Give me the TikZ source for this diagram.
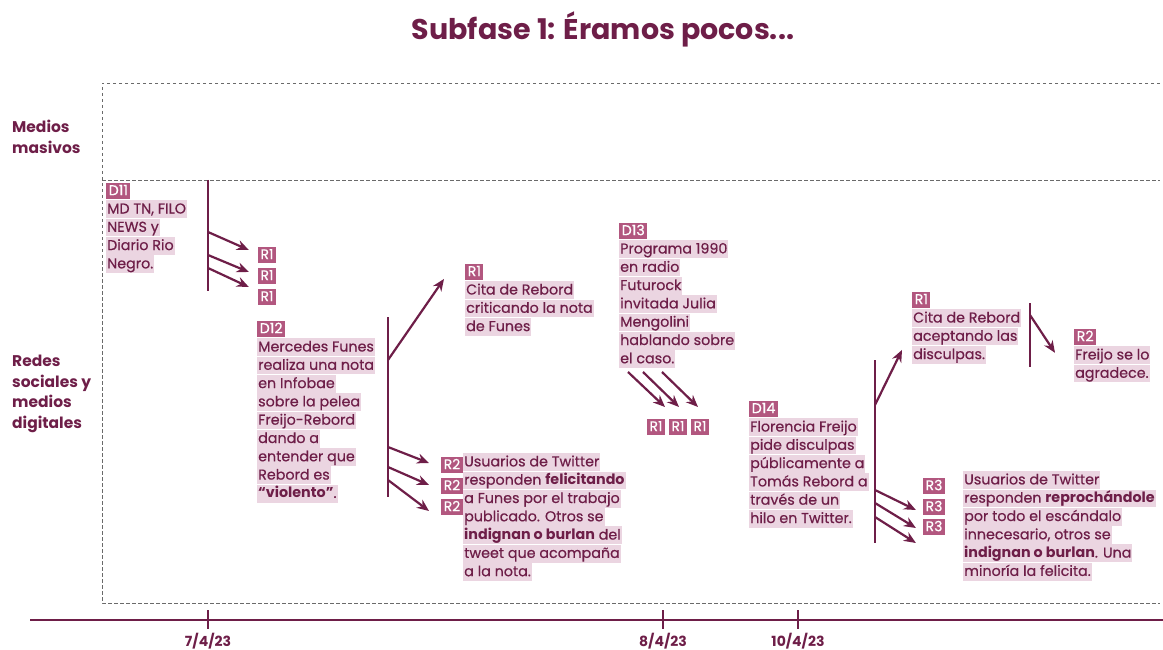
\documentclass[tikz,border=0pt]{standalone}
\usepackage{fontspec}
\setmainfont{Poppins}[UprightFeatures={FakeBold=0.5}]
\usetikzlibrary{arrows.meta,positioning}

\definecolor{vino}{HTML}{6E1E48}
\definecolor{rosa}{HTML}{EBD5E1}
\definecolor{rosafuerte}{HTML}{B2577F}
\definecolor{gris}{HTML}{6A6A6A}

% highlighted line and tag
\setlength{\fboxsep}{0pt}
\newcommand{\resaltar}[1]{\colorbox{rosa}{\rule[-4.6pt]{0pt}{17.8pt}\kern1pt#1\kern1pt}}
\newcommand{\etiq}[1]{\colorbox{rosafuerte}{\rule[-3.6pt]{0pt}{15.6pt}\kern2.5pt\textcolor{white}{#1}\kern2.5pt}}

\begin{document}
\begin{tikzpicture}[x=1pt,y=-1pt,
    evento/.style={anchor=north west, inner sep=0pt, align=left, text=vino,
        font=\fontsize{14.3}{18.3}\selectfont},
    resp/.style={inner sep=0pt, font=\fontsize{14}{15}\selectfont},
    zona/.style={anchor=north west, inner sep=0pt, align=left, text=vino,
        font=\fontsize{15.5}{20.5}\selectfont\bfseries},
    fecha/.style={text=vino, font=\fontsize{14}{15}\selectfont\bfseries},
    marco/.style={gris, line width=0.8pt, dash pattern=on 3.5pt off 2.5pt},
    tallo/.style={vino, line width=2.2pt},
    flecha/.style={vino, line width=2.2pt, -{Stealth[length=12pt,width=10pt]}}]

    \useasboundingbox (0,0) rectangle (1163,650);

    % Title
    \node[text=vino, font=\fontsize{28.5}{32}\selectfont\bfseries] (titulo) at (603,29) {Subfase 1: Éramos pocos...};

    % Frame of the two zones
    \draw[marco] (1160,83) -- (102,83) -- (102,603) -- (1160,603);
    \draw[marco] (102,180) -- (1160,180);
    \node[zona] (masivos) at (12,120) {Medios\\masivos};
    \node[zona] (redes) at (12,355) {Redes\\sociales y\\medios\\digitales};

    % Time axis
    \coordinate (ejeA) at (30,620);
    \coordinate (ejeB) at (1163,620);
    \draw[vino, line width=2.6pt] (ejeA) -- (ejeB);
    \foreach \x/\f/\n in {208/7\slash 4\slash 23/f1, 663/8\slash 4\slash 23/f2, 798/10\slash 4\slash 23/f3} {
        \draw[vino, line width=2pt] (\x,610) -- (\x,629);
        \node[fecha] (\n) at (\x,641) {\f};
    }

    % D11
    \node[evento] (d11) at (106,183) {\etiq{D11}\\\resaltar{MD TN, FILO}\\\resaltar{NEWS y}\\\resaltar{Diario Rio}\\\resaltar{Negro.}};
    \node[resp] (r11) at (267,255) {\etiq{R1}};
    \node[resp] (r12) at (267,276) {\etiq{R1}};
    \node[resp] (r13) at (267,297) {\etiq{R1}};
    \draw[tallo] (208,180) coordinate (t1a) -- (208,291) coordinate (t1b);
    \coordinate (a11) at (208,232);
    \coordinate (a12) at (208,255);
    \coordinate (a13) at (208,268);
    \draw[flecha] (a11) -- ([shift={(-9,-5)}]r11.west);
    \draw[flecha] (a12) -- ([shift={(-9,-4)}]r12.west);
    \draw[flecha] (a13) -- ([shift={(-9,-10)}]r13.west);

    % D12
    \node[evento] (d12) at (257,321) {\etiq{D12}\\\resaltar{Mercedes Funes}\\\resaltar{realiza una nota}\\\resaltar{en Infobae}\\\resaltar{sobre la pelea}\\\resaltar{Freijo-Rebord}\\\resaltar{dando a}\\\resaltar{entender que}\\\resaltar{Rebord es}\\\resaltar{\textbf{“violento”}.}};
    \node[evento] (r1cita) at (465,264) {\etiq{R1}\\\resaltar{Cita de Rebord}\\\resaltar{criticando la nota}\\\resaltar{de Funes}};
    \node[evento] (r2tw) at (463,453) {\resaltar{Usuarios de Twitter}\\\resaltar{responden \textbf{felicitando}}\\\resaltar{a Funes por el trabajo}\\\resaltar{publicado. Otros se}\\\resaltar{\textbf{indignan o burlan} del}\\\resaltar{tweet que acompaña}\\\resaltar{a la nota.}};
    \node[resp] (r21) at (452,465) {\etiq{R2}};
    \node[resp] (r22) at (452,486) {\etiq{R2}};
    \node[resp] (r23) at (452,507) {\etiq{R2}};
    \draw[tallo] (388,317) coordinate (t2a) -- (388,497) coordinate (t2b);
    \coordinate (a20) at (388,360);
    \coordinate (a21) at (388,447);
    \coordinate (a22) at (388,467);
    \coordinate (a23) at (388,480);
    \draw[flecha] (a20) -- ([shift={(-21,-21)}]r1cita.west);
    \draw[flecha] (a21) -- ([shift={(-12,-2)}]r21.west);
    \draw[flecha] (a22) -- ([shift={(-12,-1)}]r22.west);
    \draw[flecha] (a23) -- ([shift={(-12,4)}]r23.west);

    % D13
    \node[evento] (d13) at (619,223) {\etiq{D13}\\\resaltar{Programa 1990}\\\resaltar{en radio}\\\resaltar{Futurock}\\\resaltar{invitada Julia}\\\resaltar{Mengolini}\\\resaltar{hablando sobre}\\\resaltar{el caso.}};
    \node[resp] (r31) at (656,427) {\etiq{R1}};
    \node[resp] (r32) at (678,427) {\etiq{R1}};
    \node[resp] (r33) at (700,427) {\etiq{R1}};
    \coordinate (a31) at (628,372);
    \coordinate (a32) at (643,372);
    \coordinate (a33) at (662,372);
    \draw[flecha] (a31) -- ([shift={(9,-12)}]r31.north);
    \draw[flecha] (a32) -- ([shift={(1,-12)}]r32.north);
    \draw[flecha] (a33) -- ([shift={(-2,-12)}]r33.north);

    % D14
    \node[evento] (d14) at (749,401) {\etiq{D14}\\\resaltar{Florencia Freijo}\\\resaltar{pide disculpas}\\\resaltar{públicamente a}\\\resaltar{Tomás Rebord a}\\\resaltar{través de un}\\\resaltar{hilo en Twitter.}};
    \node[evento] (r1acep) at (912,292) {\etiq{R1}\\\resaltar{Cita de Rebord}\\\resaltar{aceptando las}\\\resaltar{disculpas.}};
    \node[evento] (r2agr) at (1074,329) {\etiq{R2}\\\resaltar{Freijo se lo}\\\resaltar{agradece.}};
    \node[evento] (r3tw) at (963,471) {\resaltar{Usuarios de Twitter}\\\resaltar{responden \textbf{reprochándole}}\\\resaltar{por todo el escándalo}\\\resaltar{innecesario, otros se}\\\resaltar{\textbf{indignan o burlan}. Una}\\\resaltar{minoría la felicita.}};
    \node[resp] (r41) at (934,486) {\etiq{R3}};
    \node[resp] (r42) at (934,507) {\etiq{R3}};
    \node[resp] (r43) at (934,527) {\etiq{R3}};
    \draw[tallo] (875,360) coordinate (t4a) -- (875,543) coordinate (t4b);
    \coordinate (a40) at (875,405);
    \coordinate (a41) at (875,490);
    \coordinate (a42) at (875,503);
    \coordinate (a43) at (875,517);
    \draw[flecha] (a40) -- ([shift={(-10,22)}]r1acep.west);
    \draw[flecha] (a41) -- ([shift={(-7,24)}]r41.west);
    \draw[flecha] (a42) -- ([shift={(-7,21)}]r42.west);
    \draw[flecha] (a43) -- ([shift={(-7,16)}]r43.west);

    % Reply to R1
    \draw[tallo] (1030,303) coordinate (t5a) -- (1030,367) coordinate (t5b);
    \coordinate (a50) at (1030,315);
    \draw[flecha] (a50) -- ([shift={(-19,-3)}]r2agr.west);
\end{tikzpicture}
\end{document}
